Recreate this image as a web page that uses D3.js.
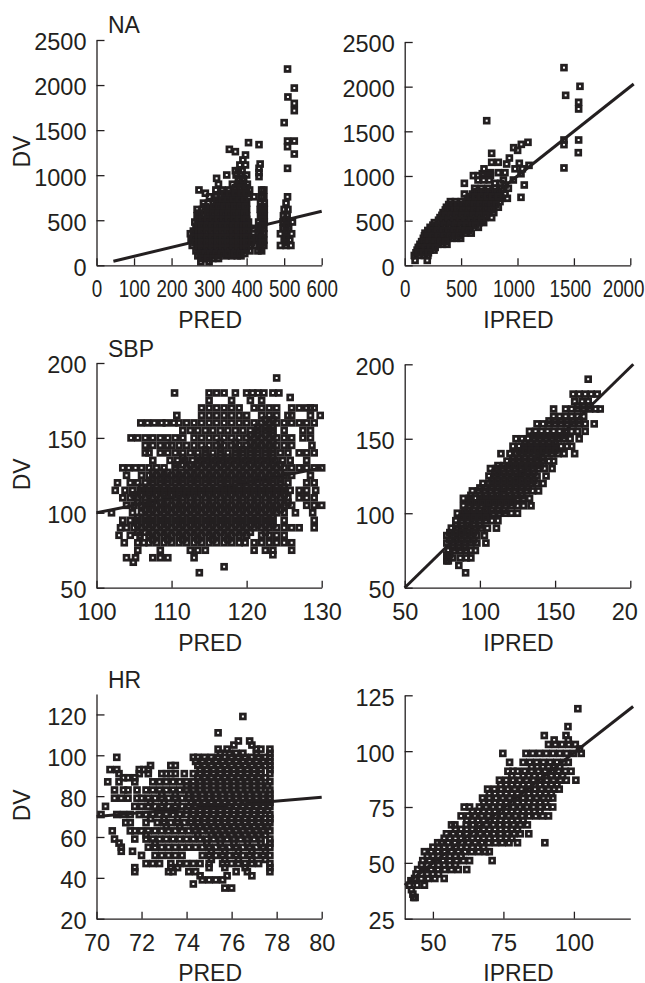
<!DOCTYPE html>
<html>
<head>
<meta charset="utf-8">
<script src="https://cdn.jsdelivr.net/npm/d3@7"></script>
<style>
body { margin: 0; background: #fff; }
svg { display: block; }
text { font-family: "Liberation Sans", Arial, sans-serif; fill: #231f20; }
</style>
</head>
<body>
<svg id="chart" width="645" height="983"></svg>
<script>
/* values, one row per DV level: [DV, [x values]] */
var naPred = [
[2178,[509]],[1967,[527]],[1868,[510]],[1797,[527]],[1716,[527]],[1583,[500]],[1379,[509,527]],[1361,[405]],[1339,[433]],[1316,[509]],
[1287,[354]],[1261,[370]],[1235,[527]],[1224,[397]],[1169,[390]],[1124,[436]],[1113,[382,397]],[1076,[433,509]],[1050,[370,378,388]],[1028,[433]],
[1002,[347,372,385,400]],[984,[433]],[965,[320,378,392]],[900,[325,362,378,392,402]],
[836,[273,318,335,352,368,382,396,408,440,446]],[800,[290]],
[760,[301,318,332,346,360,375,390,405,420,440,446,509]],
[690,[285,298,312,326,340,355,370,385,400,437,447,505]],
[620,[268,282,296,310,325,340,355,370,385,400,436,447,500,510]],
[550,[268,282,296,310,325,340,355,370,385,400,437,447,498,508]],
[480,[262,276,290,304,318,332,346,360,375,390,405,432,447,497,510,522]],
[410,[265,279,293,307,321,335,349,363,377,391,405,418,432,446,497,512]],
[350,[250,264,278,292,306,320,334,348,362,376,390,404,418,432,446,490,505,520]],
[280,[252,266,280,294,308,322,336,350,364,378,392,406,420,432,446,500,515]],
[220,[255,269,283,297,311,325,339,353,367,381,395,409,423,434,446,490,505,518]],
[160,[265,279,293,307,321,335,349,363,377,391,409,430,440]],
[105,[270,284,298,312,326,345,360,375,385]],
[40,[278,300]],
/* filler rows where the cloud is solid */
[940,[380,390]],[860,[370,385,400]],[800,[340,355,370,385,400]],[725,[320,335,350,365,380,395]],
[650,[290,312,326,340,354,368,382,396,442]],[580,[275,296,310,324,338,352,366,380,394,442]],
[510,[270,282,296,310,324,338,352,366,380,394,400,442,505]],[440,[272,280,294,308,322,336,350,364,378,392,400,438,442,505]],
[380,[258,272,280,294,308,322,336,350,364,378,392,400,438,505]],[310,[258,272,280,294,308,322,336,350,364,378,392,400,414,438,442,505]],
[250,[262,272,280,294,308,322,336,350,364,378,392,400,414,438,442,505]],[190,[272,280,294,308,322,336,350,364,378,392,400,438]],
[130,[276,290,304,318,332,350,368,382,395]],[75,[282,296,310,325]]
];
var naIpred = [
[2213,[1412]],[2004,[1554]],[1903,[1427]],[1825,[1542]],[1750,[1542]],[1619,[727]],[1403,[1412,1542]],[1377,[1093]],[1354,[1034]],[1351,[1412]],
[1317,[966]],[1287,[1001]],[1261,[1539]],[1254,[771]],[1201,[928]],[1153,[771,830]],[1142,[1016]],[1134,[904]],[1119,[1102]],[1090,[1412]],
[1080,[703,978,1043]],[1037,[830,889,760]],[1025,[688,747,1031]],[1004,[609,650,700,760]],[955,[963,875,650,700,750]],[918,[529,800,850]],[899,[1060,890]],
[862,[620,680,740,800,860,919]],[798,[529,600,650,700,750,800,850,890]],[761,[1031]],[750,[910,560,610,660,710,760,810,860]],
[713,[405,450,500,550,600,650,700,750,800,845]],
[650,[370,420,470,520,570,620,670,720,770,830]],
[590,[340,390,440,490,540,590,640,690,740,790]],
[534,[313,360,410,460,510,560,610,660,710,771]],
[478,[263,300,345,390,435,480,525,570,615,660,700]],
[425,[225,265,310,355,400,445,490,535,580,653]],
[360,[180,225,270,315,360,405,450,495,540,590]],
[302,[165,205,250,295,340,385,420,460,496]],
[235,[135,175,215,255,295,335,375]],
[170,[110,150,190,225,260]],
[110,[85,130,175,205]],
[55,[92,200]],
/* filler rows for the solid part of the band */
[825,[640,700,760,820]],[770,[580,630,680,730,780,830]],
[680,[390,430,470,520,570,620,670,720,770,810]],[620,[360,400,440,470,520,570,620,670,720,770]],[560,[330,360,410,460,510,560,610,660,720]],
[505,[300,340,390,440,490,540,590,640,680]],[450,[250,300,350,400,450,500,550,600,630]],[390,[205,240,290,340,390,440,490,540,570]],
[330,[175,200,250,300,350,400,450,480]],[265,[150,170,220,270,320,360]],[200,[120,130,180,230,270]],[140,[100,120,165,210]]
];
var sbpPred = [
[190,[124]],
[180,[110.4,115,116,117,118.5,120,120.8,121.5,122.3,123.5,124.3]],
[177,[125.8]],
[175,[115,118,120.5,122]],
[170,[114,115,116,117,118,119,121,122,123,124,126,127,128,128.5,129]],
[165,[110.7,114,115,116,117,118,119,120,122,123,124,125.5,126,128.5,129.8]],
[160,[105.9,106.8,107.7,108.7,109.3,110.3,111,112,113,114,115,116,117,118,119,120,121,122,123,124,125,126,127,128,129]],
[155,[111.5,112.5,113.5,114.5,115.5,116.5,117.5,118.5,119.5,120.5,121.5,122.5,123.5,125,127.5,128.5]],
[150,[104.6,105.5,106.5,107.5,108.5,109.5,110.5,111.5,113,114,115,116,117,118,119,120,121,122,123,124,125,126,127.5,128.5]],
[145,[106.5,107.5,108.5,109.5,110,111,112,113,114,115,116,117,118,119,120,121,122,123,124,125,126,128.7]],
[140,[106.5,107,108.5,109.5,110.5,111.5,112.5,113.5,114.5,115.5,116.5,117.5,118.5,119.5,120.5,121.5,122.5,123.5,124.5,125.5,127,128,129]],
[135,[107.5,109.8,110.8,111.8,112.8,113.8,114.8,115.8,116.8,117.8,118.8,119.8,120.8,121.8,122.8,123.8,124.8,125.8,128]],
[130,[103.5,104.3,105.2,106,107,108,109,110.5,112,113,114,115,116,117,118,119,120,121,122,123,124,125,126,127,128,129,130]],
[125,[104,106,107,108,109,110,111,112,113,114,115,116,117,118,119,120,121,122,123,124,125,126,128.5]],
[120,[102.8,104.5,105.5,106.5,107.5,108.5,109.5,110.5,111.5,112.5,113.5,114.5,115.5,116.5,117.5,118.5,119.5,120.5,121.5,122.5,123.5,124.5,125.5,128,129]],
[115,[102.5,103.8,104.8,105.8,106.8,107.8,108.8,109.8,110.8,111.8,112.8,113.8,114.8,115.8,116.8,117.8,118.8,119.8,120.8,121.8,122.8,123.8,124.8,125.8,127,128,129.2]],
[110,[103.5,104.5,105.5,106.5,107.5,108.5,109.5,110.5,111.5,112.5,113.5,114.5,115.5,116.5,117.5,118.5,119.5,120.5,121.5,122.5,123.5,124.5,125.5,127,128,129]],
[105,[104,105,106,107,108,109,110,111,112,113,114,115,116,117,118,119,120,121,122,123,124,125,126,128,129,130]],
[100,[102,104.8,106,107,108,109,110,111,112,113,114,115,116,117,118,119,120,121,122,123,124,125,126.5,128.8]],
[95,[103.5,104.5,105.5,106.5,107.5,108.5,109.5,110.5,111.5,112.5,113.5,114.5,115.5,116.5,117.5,118.5,119.5,120.5,121.5,122.5,123.5,125,129]],
[90,[103.2,104,105,106,107,108,109,110,111,112,113,114,115,116,117,118,119,120,121,122,123,124,125,126,127,129]],
[85,[103,104.5,105.8,107,108,109,110,111,112,113,114,115,116,117,118,119,120,122,123,124,125]],
[80,[103.7,105.5,106.3,107,108,109,110,111,112,113,114,115,116,117,118,119,119.8,121,122,123,124,125,126]],
[75,[105.5,108.5,112.5,113.5,114.5,121,122.5,123.5,126]],
[72,[123.5]],
[70,[104,105.2,107.5,108.5,109.5,113]],
[67,[104.9]],
[64,[117]],
[60,[113.7]],
/* filler rows, in between the 5 mmHg rows */
[82,[107.5,109.5,111.5,113.5,115.5,117.5]],
[87,[105.5,106.5,107.5,108.5,109.5,110.5,111.5,112.5,113.5,114.5,115.5,116.5,117.5,118.5,119.5,120.5,122.5]],
[92,[105.5,106.5,107.5,108.5,109.5,110.5,111.5,112.5,113.5,114.5,115.5,116.5,117.5,118.5,119.5,120.5,121.5,122.5,123.5]],
[97,[105.5,106.5,107.5,108.5,109.5,110.5,111.5,112.5,113.5,114.5,115.5,116.5,117.5,118.5,119.5,120.5,121.5,122.5,123.5]],
[102,[106.5,107.5,108.5,109.5,110.5,111.5,112.5,113.5,114.5,115.5,116.5,117.5,118.5,119.5,120.5,121.5,122.5,123.5,124.5]],
[107,[105.5,106.5,107.5,108.5,109.5,110.5,111.5,112.5,113.5,114.5,115.5,116.5,117.5,118.5,119.5,120.5,121.5,122.5,123.5,124.5,125.5]],
[112,[105,106,107,108,109,110,111,112,113,114,115,116,117,118,119,120,121,122,123,124,125]],
[117,[106,107,108,109,110,111,112,113,114,115,116,117,118,119,120,121,122,123,124,125]],
[122,[107.5,108.5,109.5,110.5,111.5,112.5,113.5,114.5,115.5,116.5,117.5,118.5,119.5,120.5,121.5,122.5,123.5,124.5]],
[127,[107.5,108.5,109.5,110.5,111.5,112.5,113.5,114.5,115.5,116.5,117.5,118.5,119.5,120.5,121.5,122.5,123.5,124.5]],
[132,[110.5,111.5,112.5,113.5,114.5,115.5,116.5,117.5,118.5,119.5,120.5,121.5,122.5,123.5,124.5]],
[137,[111.5,113.5,114.5,115.5,116.5,117.5,118.5,119.5,120.5,121.5,122.5,123.5]],
[142,[114.5,116.5,118.5,119.5,120.5,121.5,122.5,123.5]],
[147,[116.5,118.5,120.5,121.5,122.5,123.5]],[152,[120.5,121.5,122.5,123.5]],[157,[121.5,122.5,123.5]],[162,[122.5,123.5]]
];
var sbpIpred = [
[190,[172]],
[180,[162,166,170,174,178]],
[175,[163,168,172]],
[170,[149,157,161,165,169,173,177,180]],
[165,[149,153,157,161,165,169]],
[160,[138,142,146,150,154,158,162,166,170,176]],
[155,[133,137,141,145,149,153,157,161,165,170]],
[150,[124,128,132,136,140,144,148,152,156,160,166]],
[145,[122,126,130,134,138,142,146,150,154,158,161]],
[140,[114,120,124,128,132,136,140,144,148,152,156,163]],
[135,[118,122,126,130,134,138,142,146,149]],
[130,[107,111,115,119,123,127,131,135,139,143,148]],
[125,[106,110,114,118,122,126,130,134,138,144]],
[120,[102,106,110,114,118,122,126,130,134,138,142]],
[115,[95,99,103,107,111,115,119,123,127,131,135,139]],
[110,[89,93,97,101,105,109,113,117,121,125,129,133]],
[105,[89,93,97,101,105,109,113,117,121,125,129,134]],
[100,[85,89,93,97,101,105,109,113,117,121,125]],
[95,[84,88,92,96,100,104,108,112]],
[90,[81,85,89,93,97,101,105,111]],
[85,[78,82,86,90,94,98,103]],
[80,[78,82,86,90,94,98,104]],
[75,[79,83,87,91,94,97]],
[70,[78,79,82,87,91,94]],
[68,[78,79]],
[65,[86]],
[60,[90.5]],
/* filler rows */
[172,[165,169,173]],[162,[146,150,154,158,162,166]],[152,[136,140,144,148,152,156]],
[147,[130,134,138,142,146,150]],[142,[126,130,134,138,142,146,150]],[137,[122,126,130,134,138,142]],
[132,[112,116,120,124,128,132,136,140]],[127,[110,112,116,120,124,128,132,136]],
[122,[108,112,116,120,124,128,132,136]],[117,[100,104,108,112,116,120,124,128,132]],[112,[94,100,104,108,112,116,120,124,128]],
[107,[94,98,102,106,110,114,118,122]],[102,[90,92,96,100,104,108,112,116]],[97,[88,92,96,100,104]],
[92,[84,88,92,96,100]],[87,[80,84,88,92,96]],[82,[80,84,88,92,96]],[77,[82,86,90]],[72,[78,80]]
];
var hrPred = [
[119,[76.5]],[111,[75.4]],[107,[76.3,76.8]],[105,[76.1,76.9]],
[103,[75.4,75.8,77.1,77.3,77.7]],
[101,[75.5,75.9,76.2,76.5,77.1,77.7]],
[99,[70.9,74.3,74.5,74.8,75.1,75.4,75.7,76,76.3,76.6,76.9,77.2,77.5,77.7]],
[97,[74.4,74.7,75,75.3,75.6,75.9,76.2,76.5,76.8,77.1,77.4,77.7]],
[95,[72.4,73.3,73.5,74.5,74.8,75.1,75.4,75.7,76,76.3,76.6,76.9,77.2,77.5,77.7]],
[93,[70.6,70.9,71.9,72.1,72.3,74.6,74.9,75.2,75.5,75.8,76.1,76.4,76.7,77,77.3,77.7]],
[91,[71,71.9,72.3,72.9,73.1,73.3,73.5,73.9,74.3,74.6,74.9,75.2,75.5,75.8,76.1,76.4,76.7,77,77.3,77.7]],
[89,[71.2,71.4,71.7,74.5,74.8,75.1,75.4,75.7,76,76.3,76.6,76.9,77.2,77.5]],
[87,[70.5,71,71.7,72.5,72.8,73.1,73.4,73.7,74,74.3,74.6,74.9,75.2,75.5,75.8,76.1,76.4,76.7,77,77.3,77.7]],
[85,[74,74.3,74.6,74.9,75.2,75.5,75.8,76.1,76.4,76.7,77,77.3,77.6]],
[83,[70.8,71.2,71.4,71.8,72.2,72.5,72.8,73.1,73.4,73.7,74,74.3,74.6,74.9,75.2,75.5,75.8,76.1,76.4,76.7,77,77.3,77.7]],
[81,[72.9,73.5,74.1,74.4,74.7,75,75.3,75.6,75.9,76.2,76.5,76.8,77.1,77.4,77.7]],
[79,[70.8,71.1,71.4,71.8,72,72.3,72.6,72.9,73.2,73.5,73.8,74.1,74.4,74.7,75,75.3,75.6,75.9,76.2,76.5,76.8,77.1,77.4,77.7]],
[77,[72.4,73,73.6,74.2,74.5,74.8,75.1,75.4,75.7,76,76.3,76.6,76.9,77.2,77.5,77.7]],
[75,[70.4,71.7,72,72.3,72.6,72.9,73.2,73.5,73.8,74.1,74.4,74.7,75,75.3,75.6,75.9,76.2,76.5,76.8,77.1,77.4,77.7]],
[73,[72.8,73.4,74,74.3,74.6,74.9,75.2,75.5,75.8,76.1,76.4,76.7,77,77.3,77.6]],
[71,[70.2,70.9,71.2,71.5,71.9,72.2,72.5,72.8,73.1,73.4,73.7,74,74.3,74.6,74.9,75.2,75.5,75.8,76.1,76.4,76.7,77,77.3,77.7]],
[69,[72.4,73,73.6,74.2,74.5,74.8,75.1,75.4,75.7,76,76.3,76.6,76.9,77.2,77.5,77.7]],
[67,[71.3,71.5,72.2,72.7,73,73.3,73.6,73.9,74.2,74.5,74.8,75.1,75.4,75.7,76,76.3,76.6,76.9,77.2,77.5,77.7]],
[65,[73.1,73.7,74.3,74.6,74.9,75.2,75.5,75.8,76.1,76.4,76.7,77,77.3,77.6]],
[63,[70.7,71.5,71.7,72,72.3,72.6,72.9,73.2,73.5,73.8,74.1,74.4,74.7,75,75.3,75.6,75.9,76.2,76.5,76.8,77.1,77.4,77.7]],
[61,[72.2,74.5,75.1,75.4,75.7,76,76.3,76.6,76.9,77.2,77.5]],
[59,[70.8,71.7,72.2,72.5,72.8,73.1,73.4,73.7,74,74.3,74.6,74.9,75.2,75.5,75.8,76.1,76.4,76.7,77,77.3,77.7]],
[57,[71,72.6,74.9,75.5,76.1,76.7,77.3,77.7]],
[55,[71.1,72.3,72.6,72.9,73.2,73.5,73.8,74.1,74.4,74.7,75,75.3,75.6,75.9,76.2,76.5,76.8,77.1,77.4,77.7]],
[53,[71.1,71.6,75.1,75.7,76.3,76.9,77.5]],
[51,[72,72.6,72.9,73.2,73.5,73.8,74.7,75,75.3,75.6,75.9,76.2,76.5,76.8,77.1,77.4,77.7]],
[49,[75.1,75.7,76.3,76.9,77.5]],
[47,[72.2,72.5,72.8,73.3,73.7,74,74.3,74.6,75,75.6,76,76.3,76.6,76.9,77.2,77.7]],
[45,[71.7,73.3,73.6,75,75.7,76.6,77.7]],
[43,[71.7,73.2,73.4,74.1,74.4,76.2,76.7,77.7]],
[41,[74.6,75.8,76.9]],
[39,[74.7,75,75.3,75.6]],
[37,[74.3]],
[35,[75.7,76]]
];
var hrIpred = [
[119,[101.4]],[111,[97.9]],[107,[89.5,97.2]],[105,[93,98]],
[103,[91,93.4,95.8,98.2,100.5]],[101,[102]],
[99,[74.8,83,85.4,87.8,90.2,92.6,95,97.4,99.8,102.6]],
[95,[77.2,82,84.4,86.8,89.2,91.6,94,96.4,98]],
[91,[76.6,78.4,80,82.6,85,87.4,89.8,92.2,94.6,97,99]],
[87,[73.6,76,78.4,80.8,83.2,85.6,88,90.4,92.8,95.2,97.3,100.7]],
[83,[69.4,71.8,74.2,76.6,79,81.4,83.8,86.2,88.6,91,93,94.8]],
[79,[67.6,70,72.4,74.8,77.2,79.6,82,84.4,86.8,89.2,91,92.5]],
[75,[61.1,63,66.5,68.9,71.3,73.7,76.1,78.5,80.9,83.3,85.7,88.1,90.5,92.5]],
[71,[60,62.5,64.9,67.3,69.7,72.1,74.5,76.9,79.3,81.7,84.1,86.5,88.9,91]],
[67,[56.6,57.8,61.8,64.2,66.6,69,71.4,73.8,76.2,78.6,81,83.5]],
[63,[54.8,57.2,59.6,62,64.4,66.8,69.2,71.6,74,76.4,78.8,81,84]],
[59,[51.7,53,55.4,57.8,60.2,62.6,65,67.4,69.8,72.2,74.6,77,80,89.7]],
[55,[47,49.4,51.8,54.2,56.6,59,61.4,63.8,66.2,68.6,70]],
[51,[46.4,48.8,51.2,53.6,56,58.4,60.8,63,71]],
[47,[44.6,47,49.4,51.8,54.2,56.6,59,62]],
[43,[43.5,45.9,48.3,50.7,54]],
[42,[42.2]],
[40,[41.7,44.4,47]],[38,[42.4]],[36,[42.9]],[34.5,[43.2,43.7]],
/* filler rows through the solid middle */
[93,[85,87,89,91,93,95]],[89,[78,82,84,86,88,90,92,94,96]],[85,[74,76,78,80,82,84,86,88,90,92,94]],[81,[70,72,74,76,78,80,82,84,86,88,90,92]],
[77,[68,70,72,74,76,78,80,82,84,86,88,90]],[73,[64,66,68,70,72,74,76,78,80,82,84,86,88]],[69,[62,64,66,68,70,72,74,76,78,80,82]],
[65,[58,60,62,64,66,68,70,72,74,76,78,80]],[61,[54,56,58,60,62,64,66,68,70,72,74,76,78]],[57,[50,52,54,56,58,60,62,64,66,68]],[53,[48,50,52,54,56,58,60]],[49,[46,48,50,52,54,56,58]],[45,[44,46,48,50,52]]
];

var naPredTicks = [0,100,200,300,400,500,600],
    naIpredTicks = [0,500,1000,1500,2000],
    naDvTicks = [0,500,1000,1500,2000,2500],
    sbpPredTicks = [100,110,120,130],
    sbpIpredTicks = [50,100,150,200],
    sbpDvTicks = [50,100,150,200],
    hrPredTicks = [70,72,74,76,78,80],
    hrIpredTicks = [50,75,100],
    hrDvTicks = [20,40,60,80,100,120],
    hrIpredDvTicks = [25,50,75,100,125];

/* panel settings */
var leftCol = [96.5, 321.7], rightCol = [404.7, 630.3];
var panels = [
  {rows:naPred, xDom:[0,600], yDom:[0,2500], xr:leftCol, yr:[265.3,40], xt:naPredTicks, yt:naDvTicks, line:[[45,45],[600,600]], xName:"PRED", title:"NA", squeeze:0.8},
  {rows:naIpred, xDom:[0,2000], yDom:[0,2500], xr:rightCol, yr:[265.3,42], xt:naIpredTicks, yt:naDvTicks, line:[[62,62],[2030,2030]], xName:"IPRED", squeeze:0.8},
  {rows:sbpPred, xDom:[100,130], yDom:[50,200], xr:leftCol, yr:[587.7,363], xt:sbpPredTicks, yt:sbpDvTicks, line:[[100,100],[130,130]], xName:"PRED", title:"SBP"},
  {rows:sbpIpred, xDom:[50,200], yDom:[50,200], xr:rightCol, yr:[587.7,364.3], xt:sbpIpredTicks, yt:sbpDvTicks, line:[[50,50],[202,200]], xName:"IPRED", cutLast:true},
  {rows:hrPred, xDom:[70,80], yDom:[20,130], xr:leftCol, yr:[918.7,694], xt:hrPredTicks, yt:hrDvTicks, line:[[70,70],[80,79.5]], xName:"PRED", title:"HR"},
  {rows:hrIpred, xDom:[40,120], yDom:[25,125], xr:rightCol, yr:[918.7,695.3], xt:hrIpredTicks, yt:hrIpredDvTicks, line:[[40,40],[121,120]], xName:"IPRED"}
];
var ink = "#231f20";
var svg = d3.select("#chart");

panels.forEach(function(p){
  var xScale = d3.scaleLinear().domain(p.xDom).range(p.xr),
      yScale = d3.scaleLinear().domain(p.yDom).range(p.yr);
  var g = svg.append("g");

  /* x-axis */
  var xAxisG = g.append("g")
    .attr("transform", "translate(0," + p.yr[0] + ")")
    .call(d3.axisBottom(xScale).tickValues(p.xt).tickFormat(d3.format("d")).tickSizeInner(-7).tickSizeOuter(0).tickPadding(15.5));
  xAxisG.selectAll("text").style("font-size", "23.5px").attr("fill", ink);
  if (p.squeeze) {
    xAxisG.selectAll("text")
      .attr("transform", "scale(" + p.squeeze + ",1)")
      .attr("x", function(d){ return d === 2000 ? -9 : (d === 1000 || d === 1500) ? -5 : 0; });
  }
  if (p.cutLast) {
    // the label is cut in the original
    xAxisG.selectAll("text").filter(function(d){ return d === 200; }).text("20").attr("x", -6);
  }

  /* y-axis */
  var yAxisG = g.append("g")
    .attr("transform", "translate(" + p.xr[0] + ",0)")
    .call(d3.axisLeft(yScale).tickValues(p.yt).tickFormat(d3.format("d")).tickSizeInner(-8).tickSizeOuter(0).tickPadding(10));
  yAxisG.selectAll("text").style("font-size", "23.5px").attr("fill", ink).attr("dy", "0.42em");

  g.selectAll(".domain, .tick line").attr("stroke", ink).attr("stroke-width", 1.3);

  /* identity line */
  g.append("path")
    .attr("d", d3.line().x(function(d){ return xScale(d[0]); }).y(function(d){ return yScale(d[1]); })(p.line))
    .attr("fill", "none").attr("stroke", ink).attr("stroke-width", 3);

  /* points */
  var pts = p.rows.flatMap(function(r){ return r[1].map(function(v){ return {x:v, y:r[0]}; }); });
  g.append("g").selectAll("rect").data(pts).enter().append("rect")
    .attr("x", function(d){ return xScale(d.x) - 2.4; })
    .attr("y", function(d){ return yScale(d.y) - 2.4; })
    .attr("width", 4.8).attr("height", 4.8)
    .attr("fill", "none").attr("stroke", ink).attr("stroke-width", 2.8);

  /* labels */
  g.append("text").attr("x", (p.xr[0] + p.xr[1]) / 2 + 1)
    .attr("y", Math.min(p.yr[0] + 63, 980.5)).attr("text-anchor", "middle").style("font-size", "23px").text(p.xName);
  if (p.title) {
    g.append("text").attr("x", 108).attr("y", p.yr[0] - 232 + (p.title === "NA" ? 0 : p.title === "SBP" ? 1 : 1.5))
      .style("font-size", "23px").text(p.title);
    g.append("text").attr("transform", "translate(30," + ((p.yr[0] + p.yr[1]) / 2 - 1) + ") rotate(-90)")
      .attr("text-anchor", "middle").style("font-size", "23px").text("DV");
  }
});
</script>
</body>
</html>
